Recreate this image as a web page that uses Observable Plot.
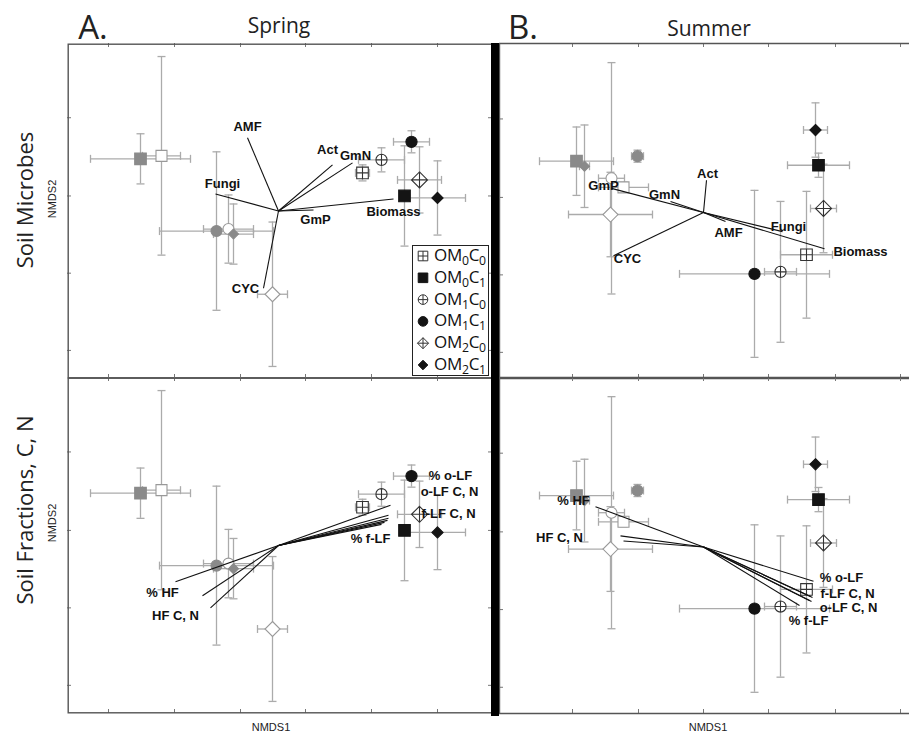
<!DOCTYPE html>
<html><head><meta charset="utf-8">
<script src="https://cdn.jsdelivr.net/npm/d3@7"></script>
<script src="https://cdn.jsdelivr.net/npm/@observablehq/plot@0.6"></script>
<style>
html,body{margin:0;background:#fff;overflow:hidden;}
#wrap{position:relative;width:909px;height:733px;overflow:hidden;background:#fff;}
.t{position:absolute;white-space:nowrap;transform:translate(-50%,-50%);line-height:1;}
.panel{position:absolute;}
.panel svg{display:block;max-width:none !important;}
sub{font-size:72%;vertical-align:-0.32em;line-height:0;}
</style></head><body><div id="wrap"></div>
<script>
// ---------------- DATA ----------------
const treatments = ["OM0C0","OM0C1","OM1C0","OM1C1","OM2C0","OM2C1",
                    "S2-OM0C1","S2-OM0C0","S2-OM1C1","S2-OM1C0","S2-OM2C1","S2-OM2C0"];
// Spring NMDS scores (mean) and SE
const springX    = [0.84, 1.26, 1.03, 1.33, 1.41, 1.59, -1.38, -1.17, -0.62, -0.50, -0.45, -0.06];
const springY    = [0.38, 0.15, 0.51, 0.69, 0.31, 0.13,  0.52,  0.55, -0.20, -0.18, -0.23, -0.83];
const springXErr = [0.07, 0.04, 0.23, 0.18, 0.22, 0.28,  0.50,  0.19,  0.57,  0.25,  0.20,  0.15];
const springYErr = [0.08, 0.50, 0.12, 0.11, 0.33, 0.37,  0.25,  0.99,  0.79,  0.34,  0.30,  0.72];
// Summer NMDS scores (mean) and SE
const summerX    = [1.03, 1.15, 0.77, 0.51, 1.20, 1.12, -1.27, -0.80, -0.66, -0.92, -1.19, -0.93];
const summerY    = [-0.42, 0.47, -0.59, -0.61, 0.04, 0.82, 0.51, 0.25, 0.56, 0.34, 0.46, -0.02];
const summerXErr = [0.26, 0.31, 0.16, 0.75, 0.13, 0.12, 0.37, 0.25, 0.06, 0.13, 0.05, 0.42];
const summerYErr = [0.63, 0.12, 0.70, 0.83, 0.44, 0.27, 0.34, 0.05, 0.06, 1.15, 0.41, 0.42];

// Microbe vectors
const microbeNames = ["AMF","Act","GmN","Fungi","GmP","Biomass","CYC"];
const springMicrobeX = [-0.31, 0.54, 0.74, -0.63, 0.35, 1.15, -0.15];
const springMicrobeY = [0.73, 0.46, 0.48, 0.17, 0.01, 0.12, -0.77];
const summerMicrobeX = [0.22, 0.03, -0.33, 0.79, -0.92, 1.21, -0.90];
const summerMicrobeY = [-0.09, 0.32, 0.11, -0.19, 0.24, -0.36, -0.43];
// Microbe vector labels (positions in NMDS units)
const springMicrobeLabelX = [-0.31, 0.49, 0.77, -0.56, 0.37, 1.15, -0.33];
const springMicrobeLabelY = [0.84, 0.61, 0.55, 0.27, -0.09, -0.01, -0.78];
const summerMicrobeLabelX = [0.25, 0.04, -0.39, 0.85, -1.00, 1.57, -0.76];
const summerMicrobeLabelY = [-0.20, 0.38, 0.18, -0.14, 0.27, -0.39, -0.46];

// Soil fraction vectors
const fractionNames = ["% HF","HF C","HF N","% o-LF","o-LF C","o-LF N","f-LF C","f-LF N","% f-LF"];
const springFractionX = [-1.03, -0.76, -0.68, 1.12, 1.10, 1.10, 1.09, 1.06, 1.03];
const springFractionY = [-0.36, -0.50, -0.62, 0.40, 0.30, 0.27, 0.25, 0.23, 0.21];
const summerFractionX = [-1.08, -0.83, -0.80, 1.10, 1.08, 1.06, 1.09, 1.07, 0.96];
const summerFractionY = [0.40, 0.11, 0.06, -0.34, -0.54, -0.53, -0.50, -0.49, -0.58];
const fractionLabels = ["% o-LF","o-LF C, N","f-LF C, N","% f-LF","% HF","HF C, N"];
const springFractionLabelX = [1.72, 1.71, 1.70, 0.92, -1.16, -1.03];
const springFractionLabelY = [0.69, 0.53, 0.31, 0.07, -0.47, -0.70];
const summerFractionLabelX = [1.38, 1.45, 1.44, 1.05, -1.30, -1.44];
const summerFractionLabelY = [-0.31, -0.60, -0.46, -0.73, 0.46, 0.09];

// Axis tick positions (unlabelled)
const springXTicks = [-1.70, -1.04, -0.38, 0.27, 0.93, 1.59];
const summerXTicks = [-1.31, -0.65, 0, 0.65, 1.32, 1.97];
const yTicks = [0.93, 0.15, -0.62, -1.39];

const legendKeys = ["OM0C0","OM0C1","OM1C0","OM1C1","OM2C0","OM2C1"];

// ---------------- SYMBOLS / STYLE ----------------
const R = s => Math.sqrt(s / Math.PI);
const sym = {
  sq:   {draw(c,s){const r=R(s); c.rect(-r,-r,2*r,2*r);}},
  sqP:  {draw(c,s){const r=R(s); c.rect(-r,-r,2*r,2*r); c.moveTo(-r,0); c.lineTo(r,0); c.moveTo(0,-r); c.lineTo(0,r);}},
  ci:   {draw(c,s){const r=R(s); c.moveTo(r,0); c.arc(0,0,r,0,2*Math.PI);}},
  ciP:  {draw(c,s){const r=R(s); c.moveTo(r,0); c.arc(0,0,r,0,2*Math.PI); c.moveTo(-r,0); c.lineTo(r,0); c.moveTo(0,-r); c.lineTo(0,r);}},
  di:   {draw(c,s){const r=R(s); c.moveTo(0,-r); c.lineTo(r,0); c.lineTo(0,r); c.lineTo(-r,0); c.closePath();}},
  diP:  {draw(c,s){const r=R(s); c.moveTo(0,-r); c.lineTo(r,0); c.lineTo(0,r); c.lineTo(-r,0); c.closePath(); c.moveTo(-r,0); c.lineTo(r,0); c.moveTo(0,-r); c.lineTo(0,r);}},
  vcap: {draw(c,s){const r=R(s); c.moveTo(0,-r); c.lineTo(0,r);}},
  hcap: {draw(c,s){const r=R(s); c.moveTo(-r,0); c.lineTo(r,0);}}
};
const GRAY = "#8a8a8a", ERR = "#ababab", INK = "#141414";
const style = {
  "OM0C0":    {symbol: sym.sqP, r: 5.8, fill: "#fff", stroke: "#333"},
  "OM0C1":    {symbol: sym.sq,  r: 5.8, fill: INK,    stroke: INK},
  "OM1C0":    {symbol: sym.ciP, r: 5.6, fill: "#fff", stroke: "#333"},
  "OM1C1":    {symbol: sym.ci,  r: 5.6, fill: INK,    stroke: INK},
  "OM2C0":    {symbol: sym.diP, r: 8.0, fill: "#fff", stroke: "#333"},
  "OM2C1":    {symbol: sym.di,  r: 5.6, fill: INK,    stroke: INK},
  "S2-OM0C1": {symbol: sym.sq,  r: 5.8, fill: GRAY,   stroke: GRAY},
  "S2-OM0C0": {symbol: sym.sq,  r: 5.5, fill: "#fff", stroke: "#999"},
  "S2-OM1C1": {symbol: sym.ci,  r: 5.5, fill: GRAY,   stroke: GRAY},
  "S2-OM1C0": {symbol: sym.ci,  r: 5.5, fill: "#fff", stroke: "#999"},
  "S2-OM2C1": {symbol: sym.di,  r: 5.0, fill: GRAY,   stroke: GRAY},
  "S2-OM2C0": {symbol: sym.di,  r: 7.5, fill: "#fff", stroke: "#999"}
};

// ---------------- BUILD TABLES ----------------
const pointsOf = (X,Y,XE,YE) => treatments.map((k,i)=>({key:k, x:X[i], y:Y[i], xe:XE[i], ye:YE[i]}));
const vecsOf = (names,X,Y) => names.map((n,i)=>({name:n, x:X[i], y:Y[i]}));
const springPts = pointsOf(springX, springY, springXErr, springYErr);
const summerPts = pointsOf(summerX, summerY, summerXErr, summerYErr);

function panel({pts, vecs, labels, xDomain, yDomain, xTicks, width, height, openRight}) {
  const hCaps = pts.flatMap(d=>[{x:d.x-d.xe,y:d.y},{x:d.x+d.xe,y:d.y}]);
  const vCaps = pts.flatMap(d=>[{x:d.x,y:d.y-d.ye},{x:d.x,y:d.y+d.ye}]);
  const tk = {stroke:"#777", strokeWidth:1};
  const fr = {stroke:"#555", strokeWidth:1.4};
  const frame = openRight
    ? [Plot.ruleY(yDomain, {y:d=>d, dy:0, ...fr, insetTop:0}),
       Plot.ruleX([xDomain[0]], {x:d=>d, ...fr})]
    : [Plot.frame({...fr, inset:0.7})];
  return Plot.plot({
    width, height, margin: 0,
    x: {domain: xDomain, axis: null},
    y: {domain: yDomain, axis: null},
    style: {background: "transparent", overflow: "visible", maxWidth: "none"},
    marks: [
      Plot.ruleY(pts, {y:"y", x1:d=>d.x-d.xe, x2:d=>d.x+d.xe, stroke:ERR, strokeWidth:1.3}),
      Plot.ruleX(pts, {x:"x", y1:d=>d.y-d.ye, y2:d=>d.y+d.ye, stroke:ERR, strokeWidth:1.3}),
      Plot.dot(hCaps, {x:"x", y:"y", symbol: sym.vcap, r:4, fill:"none", stroke:ERR, strokeWidth:1.3}),
      Plot.dot(vCaps, {x:"x", y:"y", symbol: sym.hcap, r:4, fill:"none", stroke:ERR, strokeWidth:1.3}),
      ...treatments.map(k => Plot.dot(pts.filter(d=>d.key===k), {
        x:"x", y:"y", symbol: style[k].symbol, r: style[k].r,
        fill: style[k].fill, stroke: style[k].stroke, strokeWidth: 1.1})),
      Plot.link(vecs, {x1:0, y1:0, x2:"x", y2:"y", stroke:"#111", strokeWidth:1.1}),
      Plot.text(labels, {x:"x", y:"y", text:"name", fontWeight:"bold", fontSize:13,
        fontFamily:"'Liberation Sans', Arial, sans-serif", fill:"#111"}),
      Plot.tickX(xTicks, {x:d=>d, insetTop: height-4, ...tk}),
      Plot.tickX(xTicks, {x:d=>d, insetBottom: height-4, ...tk}),
      Plot.tickY(yTicks, {y:d=>d, insetRight: width-4, ...tk}),
      openRight ? null : Plot.tickY(yTicks, {y:d=>d, insetLeft: width-4, ...tk}),
      ...frame
    ]
  });
}

const wrap = document.getElementById("wrap");
function place(node, left, top) {
  const d = document.createElement("div");
  d.className = "panel"; d.style.left = left+"px"; d.style.top = top+"px";
  d.appendChild(node); wrap.appendChild(d); return d;
}
function text(html, x, y, css, rot) {
  const d = document.createElement("div");
  d.className = "t"; d.innerHTML = html;
  d.style.left = x+"px"; d.style.top = y+"px";
  d.style.cssText += css;
  if (rot) d.style.transform = "translate(-50%,-50%) rotate(-90deg)";
  wrap.appendChild(d);
}

const spX = [-2.11, 2.14], suX = [-2.04, 2.06];
const spY = [-1.67, 1.67];
// summer y domain nudged inward so the horizontal border rules sit inside the SVG
const suY = [-1.65, 1.68];

place(panel({pts: springPts, vecs: vecsOf(microbeNames, springMicrobeX, springMicrobeY),
  labels: vecsOf(microbeNames, springMicrobeLabelX, springMicrobeLabelY),
  xDomain: spX, yDomain: spY, xTicks: springXTicks, width: 425, height: 335}), 67, 43);
place(panel({pts: springPts, vecs: vecsOf(fractionNames, springFractionX, springFractionY),
  labels: vecsOf(fractionLabels, springFractionLabelX, springFractionLabelY),
  xDomain: spX, yDomain: spY, xTicks: springXTicks, width: 425, height: 336}), 67, 377);
place(panel({pts: summerPts, vecs: vecsOf(microbeNames, summerMicrobeX, summerMicrobeY),
  labels: vecsOf(microbeNames, summerMicrobeLabelX, summerMicrobeLabelY),
  xDomain: suX, yDomain: suY, xTicks: summerXTicks, width: 410, height: 335, openRight: true}), 499, 43);
place(panel({pts: summerPts, vecs: vecsOf(fractionNames, summerFractionX, summerFractionY),
  labels: vecsOf(fractionLabels, summerFractionLabelX, summerFractionLabelY),
  xDomain: suX, yDomain: suY, xTicks: summerXTicks, width: 410, height: 336, openRight: true}), 499, 377);

// thick separator bar
const bar = document.createElement("div");
bar.style.cssText = "position:absolute;left:491px;top:43px;width:8px;height:673px;background:#000;";
wrap.appendChild(bar);

// Legend
const leg = document.createElement("div");
leg.style.cssText = "position:absolute;left:412px;top:245px;width:77px;height:131px;background:#fff;border:1.5px solid #222;box-sizing:border-box;";
wrap.appendChild(leg);
const lsvg = d3.select(leg).append("svg").attr("width",77).attr("height",131).style("position","absolute").style("left","-1.5px").style("top","-1.5px");
legendKeys.forEach((k,i) => {
  const cy = 11 + i*21.8;
  const p = d3.path(); const rr = k==="OM2C0" ? 5.5 : 4.8;
  style[k].symbol.draw(p, rr*rr*Math.PI);
  lsvg.append("path").attr("d", p.toString()).attr("transform", `translate(11,${cy})`)
    .attr("fill", style[k].fill).attr("stroke", style[k].stroke).attr("stroke-width",1);
  const m = k.match(/OM(\d)C(\d)/);
  const d = document.createElement("div");
  d.style.cssText = `position:absolute;left:21px;top:${cy-12}px;font:17px 'Open Sans',sans-serif;color:#111;line-height:20px;letter-spacing:-0.3px;`;
  d.innerHTML = `OM<sub>${m[1]}</sub>C<sub>${m[2]}</sub>`;
  leg.appendChild(d);
});

// Titles and axis labels
const hum = "font-family:'Open Sans',sans-serif;color:#222;";
text("A.", 93, 26, hum+"font-size:33px;");
text("Spring", 279, 25, hum+"font-size:21px;");
text("B.", 523, 26, hum+"font-size:33px;");
text("Summer", 709, 28, hum+"font-size:21px;");
text("Soil Microbes", 24, 200, hum+"font-size:22px;", true);
text("Soil Fractions, C, N", 24, 510, hum+"font-size:22px;", true);
const ar = "font-family:'Liberation Sans',Arial,sans-serif;font-size:11px;color:#222;";
text("NMDS2", 52, 199, ar, true);
text("NMDS2", 52, 523, ar, true);
text("NMDS1", 271, 727, ar);
text("NMDS1", 708, 727, ar);
</script></body></html>
